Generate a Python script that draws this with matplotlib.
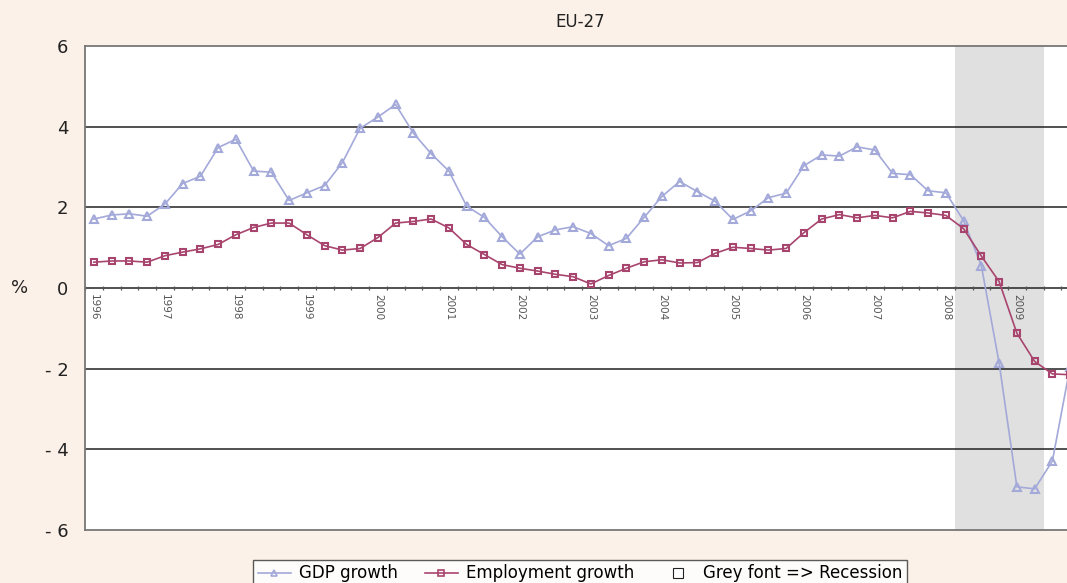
import matplotlib
matplotlib.use("Agg")
import matplotlib.pyplot as plt
from matplotlib.lines import Line2D
import numpy as np

# Quarterly data 1996Q1 - 2009Q4 (year-on-year growth, %)
years = [str(y) for y in range(1996, 2010)]
gdp_growth = [1.71, 1.81, 1.84, 1.78, 2.08, 2.59, 2.77, 3.48, 3.69, 2.90, 2.87, 2.17,
              2.36, 2.54, 3.11, 3.96, 4.24, 4.55, 3.84, 3.33, 2.90, 2.03, 1.75, 1.27,
              0.84, 1.27, 1.44, 1.52, 1.35, 1.05, 1.23, 1.75, 2.27, 2.64, 2.39, 2.15,
              1.70, 1.91, 2.24, 2.35, 3.03, 3.30, 3.27, 3.50, 3.42, 2.84, 2.81, 2.41,
              2.36, 1.67, 0.55, -1.86, -4.93, -4.98, -4.29, -1.95]
emp_growth = [0.64, 0.67, 0.67, 0.64, 0.80, 0.89, 0.97, 1.08, 1.32, 1.50, 1.61, 1.61,
              1.32, 1.05, 0.94, 0.98, 1.25, 1.61, 1.65, 1.71, 1.49, 1.08, 0.83, 0.58,
              0.49, 0.42, 0.34, 0.28, 0.10, 0.31, 0.49, 0.65, 0.70, 0.62, 0.63, 0.86,
              1.01, 0.98, 0.94, 0.98, 1.37, 1.71, 1.82, 1.74, 1.80, 1.74, 1.90, 1.86,
              1.80, 1.47, 0.79, 0.16, -1.12, -1.82, -2.13, -2.15]
recession_start, recession_end = 49, 53   # 2008Q2 - 2009Q2 (quarter indices)
y_ticks = [6, 4, 2, 0, -2, -4, -6]
y_ticklabels = ["6", "4", "2", "0", "- 2", "- 4", "- 6"]

gdp_color = "#a3a9d9"
emp_color = "#a8456e"
bg = "#fcf1e8"

W, H = 1067, 583
fig = plt.figure(figsize=(W / 100, H / 100), dpi=100, facecolor=bg)
left, right, top, bottom = 85, 1079, 46, 530
ax = fig.add_axes([left / W, 1 - bottom / H, (right - left) / W, (bottom - top) / H])
ax.set_facecolor("white")

n = len(gdp_growth)
x = np.arange(n)
ax.set_xlim(-0.5, n - 0.5)
ax.set_ylim(-6, 6)

ax.axvspan(recession_start - 0.5, recession_end + 0.5, color="#e0e0e0", zorder=0.5, lw=0)
for yv in [4, 2, -2, -4]:
    ax.axhline(yv, color="#222222", lw=1.1, zorder=1)
ax.axhline(0, color="#333333", lw=1.2, zorder=1.5)

ax.plot(x, gdp_growth, color=gdp_color, lw=1.2, marker="^", markersize=6,
        mfc="none", mec=gdp_color, mew=1.5, zorder=3)
ax.plot(x, emp_growth, color=emp_color, lw=1.2, marker="s", markersize=5,
        mfc="none", mec=emp_color, mew=1.5, zorder=4)

for side in ["left", "top", "bottom", "right"]:
    ax.spines[side].set_color("#777777")
    ax.spines[side].set_linewidth(1.3)

ax.set_xticks([])
ax.set_yticks(y_ticks)
ax.set_yticklabels(y_ticklabels, fontsize=13, color="#222222")
ax.tick_params(axis="y", length=0, pad=12)

# quarter tick marks on the zero axis
ax.plot(np.arange(-0.5, n, 1), np.zeros(n + 1), linestyle="none", marker="|",
        markersize=3.5, color="#555555", mew=0.9, zorder=2, clip_on=False)

# year labels below the zero axis
for i, yr in zip(range(0, n, 4), years):
    ax.annotate(yr, xy=(i, 0), xytext=(0, -4), textcoords="offset points",
                rotation=-90, ha="center", va="top", fontsize=7.5, color="#555555")

fig.text(580 / W, 1 - 22 / H, "EU-27", ha="center", va="center", fontsize=12, color="#222222")
fig.text(20 / W, 1 - 288 / H, "%", ha="center", va="center", fontsize=13, color="#222222")

handles = [
    Line2D([], [], color=gdp_color, lw=1.2, marker="^", markersize=5, mfc="none", mec=gdp_color, mew=1.2),
    Line2D([], [], color=emp_color, lw=1.2, marker="s", markersize=4.5, mfc="none", mec=emp_color, mew=1.2),
    Line2D([], [], color="none", lw=0, marker="s", markersize=7, mfc="white", mec="#222222", mew=0.8),
]
labels = ["GDP growth", "Employment growth", "Grey font => Recession"]
leg = fig.legend(handles, labels, loc="upper center", bbox_to_anchor=(580 / W, 1 - 552 / H),
                 ncol=3, fontsize=12, frameon=True, fancybox=False, handlelength=2.0,
                 handletextpad=0.5, columnspacing=1.6, borderpad=0.25)
leg.get_frame().set_edgecolor("#333333")
leg.get_frame().set_linewidth(1.0)
leg.get_frame().set_facecolor("white")

fig.savefig("out.png", dpi=100, facecolor=bg)
